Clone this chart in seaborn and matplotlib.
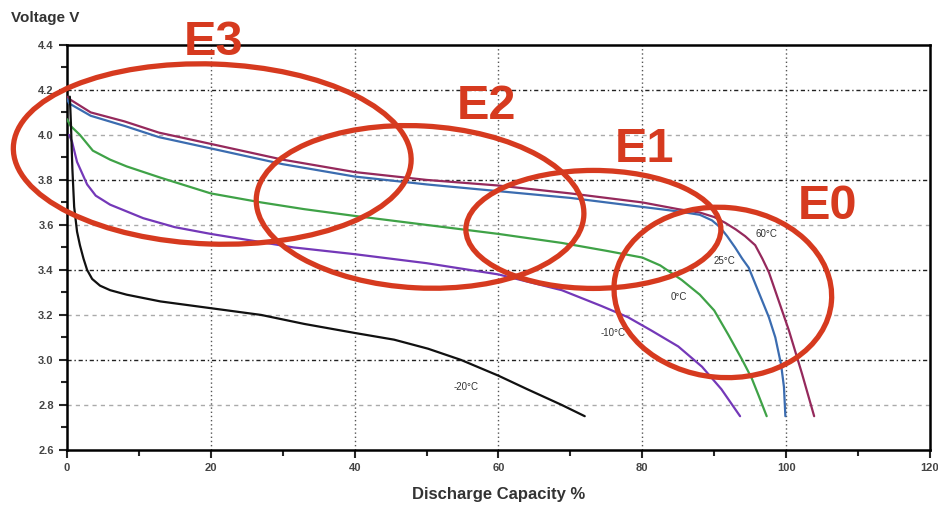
import numpy as np
import pandas as pd
import matplotlib
matplotlib.use("Agg")
import matplotlib.pyplot as plt
import matplotlib.transforms as mtransforms
from matplotlib.patches import Ellipse
from matplotlib.ticker import MultipleLocator
import seaborn as sns

# discharge curves (capacity %, voltage V)
cap_60 = [0, 0.3, 3.3, 8, 12.8, 20, 30, 40, 50, 60, 70, 80, 85, 88, 90, 91.5, 93, 94.3, 95.7, 96.7, 97.6, 99, 100.4, 102.2, 103.9]
volt_60 = [4.17, 4.16, 4.10, 4.06, 4.01, 3.96, 3.89, 3.835, 3.80, 3.775, 3.74, 3.70, 3.67, 3.655, 3.635, 3.61, 3.58, 3.55, 3.51, 3.45, 3.39, 3.26, 3.13, 2.94, 2.75]

cap_25 = [0, 0.3, 3.3, 8, 12.8, 20, 30, 40, 50, 60, 70, 80, 85, 88, 89.7, 90.8, 91.8, 92.9, 93.9, 94.8, 96.2, 97.6, 98.5, 99.3, 99.7, 99.9]
volt_25 = [4.16, 4.14, 4.085, 4.04, 3.99, 3.94, 3.87, 3.815, 3.78, 3.75, 3.72, 3.68, 3.66, 3.645, 3.62, 3.59, 3.55, 3.50, 3.45, 3.41, 3.30, 3.19, 3.10, 2.98, 2.88, 2.75]

cap_0 = [0, 0.5, 1.8, 3.6, 6, 8.3, 13, 20, 27, 33, 40, 50, 60, 68.8, 75, 80, 82.5, 85.5, 88, 90, 92, 93.9, 95.2, 96.2, 97.3]
volt_0 = [4.07, 4.04, 4.00, 3.93, 3.89, 3.86, 3.81, 3.74, 3.70, 3.67, 3.64, 3.60, 3.56, 3.52, 3.485, 3.455, 3.42, 3.355, 3.29, 3.22, 3.11, 3.0, 2.92, 2.84, 2.75]

cap_m10 = [0.3, 0.7, 1.4, 2.8, 4, 6, 10.6, 15, 20, 31.5, 40, 50, 60, 68.8, 74.3, 78, 81.3, 85, 88.3, 91, 93.6]
volt_m10 = [4.0, 3.97, 3.88, 3.78, 3.73, 3.69, 3.63, 3.59, 3.56, 3.50, 3.47, 3.43, 3.38, 3.31, 3.24, 3.19, 3.13, 3.06, 2.97, 2.87, 2.75]

cap_m20 = [0.4, 0.55, 0.75, 1.0, 1.4, 1.8, 2.3, 2.8, 3.5, 4.6, 6, 8.3, 13, 20, 27, 33, 40, 45.5, 50.2, 54.8, 60, 64, 68.8, 72]
volt_m20 = [4.17, 4.05, 3.85, 3.68, 3.57, 3.51, 3.45, 3.40, 3.36, 3.33, 3.31, 3.29, 3.26, 3.23, 3.20, 3.16, 3.12, 3.09, 3.05, 3.00, 2.93, 2.87, 2.80, 2.75]

temps = ["60°C", "25°C", "0°C", "-10°C", "-20°C"]
caps = [cap_60, cap_25, cap_0, cap_m10, cap_m20]
volts = [volt_60, volt_25, volt_0, volt_m10, volt_m20]
colors = ["#95295c", "#3b6cb0", "#3fa247", "#7438b8", "#111111"]

# where the temperature labels sit
label_x = [97.3, 91.4, 85.1, 76.0, 55.5]
label_y = [3.56, 3.44, 3.28, 3.12, 2.88]

# regions marked on the chart: name, centre (data), size (inches), tilt, text position
zones = ["E3", "E2", "E1", "E0"]
zone_cx = [20.2, 49.1, 73.2, 91.2]
zone_cy = [3.915, 3.68, 3.58, 3.30]
zone_w = [3.98, 3.28, 2.55, 2.18]
zone_h = [1.80, 1.62, 1.18, 1.70]
zone_ang = [-2, -3, 0, -5]
zone_tx = [20.4, 58.3, 80.3, 105.7]
zone_ty = [4.41, 4.125, 3.935, 3.68]

rows = []
for t, c, v in zip(temps, caps, volts):
    for xi, yi in zip(c, v):
        rows.append((t, xi, yi))
df = pd.DataFrame(rows, columns=["temp", "capacity", "voltage"])

sns.set_style("white")
plt.rcParams["font.family"] = ["Liberation Sans", "DejaVu Sans"]

fig = plt.figure(figsize=(9.38, 5.16), dpi=100)
ax = fig.add_axes([0.0714, 0.128, 0.92, 0.785])

# grid: alternating dash-dot dark and light dashed lines
for g in np.arange(2.8, 4.21, 0.2):
    if round(g * 10) % 4 == 2:
        ax.axhline(g, color="#222222", lw=1.0, ls=(0, (3, 2, 1, 2)), zorder=1)
    else:
        ax.axhline(g, color="#aaaaaa", lw=1.0, ls=(0, (3, 3)), zorder=1)
for g in [20, 40, 60, 80, 100]:
    ax.axvline(g, color="#555555", lw=1.0, ls=(0, (1, 2)), zorder=1)

sns.lineplot(data=df, x="capacity", y="voltage", hue="temp", sort=False,
             palette=dict(zip(temps, colors)), linewidth=1.6, legend=False,
             estimator=None, ax=ax, zorder=3)

for t, lx, ly in zip(temps, label_x, label_y):
    ax.text(lx, ly, t, fontsize=7, color="#333333", ha="center", va="center", zorder=4)

red = "#d63a1f"
for name, cx, cy, w, h, a, tx, ty in zip(zones, zone_cx, zone_cy, zone_w, zone_h, zone_ang, zone_tx, zone_ty):
    tr = fig.dpi_scale_trans + mtransforms.ScaledTranslation(cx, cy, ax.transData)
    ax.add_patch(Ellipse((0, 0), w, h, angle=a, fill=False, edgecolor=red,
                         lw=3.8, clip_on=False, zorder=5, transform=tr))
    ax.text(tx, ty, name, fontsize=35, fontweight="bold", color=red,
            ha="center", va="center", clip_on=False, zorder=6)

ax.set_xlim(0, 120)
ax.set_ylim(2.6, 4.4)
ax.xaxis.set_major_locator(MultipleLocator(20))
ax.xaxis.set_minor_locator(MultipleLocator(10))
ax.yaxis.set_major_locator(MultipleLocator(0.2))
ax.yaxis.set_minor_locator(MultipleLocator(0.1))
ax.set_yticks(ax.get_yticks())
ax.set_yticklabels([f"{v:.1f}" for v in ax.get_yticks()])
ax.set_ylim(2.6, 4.4)
ax.tick_params(which="major", direction="out", length=6, width=1.5, labelsize=8,
               labelcolor="#444444", left=True, bottom=True)
ax.tick_params(which="minor", direction="out", length=4, width=1.5, left=True, bottom=True)
for s in ax.spines.values():
    s.set_color("black")
    s.set_linewidth(1.8)
for lab in ax.get_xticklabels() + ax.get_yticklabels():
    lab.set_fontweight("bold")

ax.set_xlabel("Discharge Capacity %", fontsize=12, fontweight="bold", color="#333333", labelpad=10)
ax.set_ylabel("")
fig.text(0.012, 0.965, "Voltage V", fontsize=11, fontweight="bold", color="#333333", va="center")

fig.savefig("out.png", dpi=100)
